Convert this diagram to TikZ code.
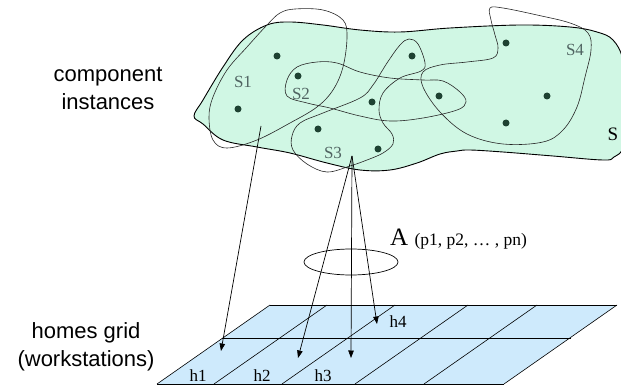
\documentclass[tikz,border=0pt]{standalone}
\usepackage{fontspec}
\setmainfont{Liberation Serif}
\setsansfont{Liberation Sans}
\usetikzlibrary{arrows.meta, positioning, shapes.geometric}

\definecolor{mint}{RGB}{208,247,228}
\definecolor{setgray}{RGB}{80,100,98}
\definecolor{dotgreen}{RGB}{30,66,50}
\definecolor{homeblue}{RGB}{206,234,252}

\begin{document}
\begin{tikzpicture}[
  x=1pt, y=-1pt,
  every node/.style={inner sep=0pt},
  sidelabel/.style={font=\sffamily\fontsize{22}{28}\selectfont, align=center},
  setname/.style={font=\fontsize{17}{19}\selectfont, text=setgray},
  setline/.style={draw=black!85, line width=0.6pt},
  blobline/.style={draw=black, line width=0.9pt},
  dot/.style={circle, fill=dotgreen, minimum size=7pt},
  homename/.style={font=\fontsize{17}{19}\selectfont},
  gridline/.style={draw=black, line width=0.6pt},
  arr/.style={-{Triangle[length=7.5pt, width=5.5pt]}, line width=0.7pt},
]
\useasboundingbox (0,0) rectangle (621,385);
\clip (0,0) rectangle (621,385);

%% Set S of component instances
\filldraw[blobline, fill=mint] plot[smooth cycle, tension=0.6] coordinates {
  (194,116) (203,100) (223,67) (243,40) (267,25) (290,22) (323,25) (360,30)
  (400,32) (450,28) (520,25) (570,27) (597,32) (613,40) (623,60) (627,100)
  (624,145) (614,157) (603,160) (553,156) (503,152) (470,150) (457,151)
  (440,154) (417,163) (390,170) (360,170) (327,163) (290,153) (257,147)
  (223,140) (203,124)};

%% Subsets S1 - S4
\draw[setline] plot[smooth cycle, tension=0.6] coordinates {
  (267,25) (280,13) (295,9) (323,10) (343,20) (347,37) (343,67) (333,90)
  (317,107) (290,123) (257,140) (227,148) (213,140) (209,117) (213,97)
  (227,70) (247,47)};
\draw[setline] plot[smooth cycle, tension=0.6] coordinates {
  (287,80) (297,67) (317,62) (337,63) (360,72) (390,78) (423,80) (443,81)
  (460,92) (466,102) (457,110) (423,118) (390,121) (360,116) (330,108)
  (307,103) (287,96)};
\draw[setline] plot[smooth cycle, tension=0.6] coordinates {
  (300,123) (323,113) (360,98) (373,85) (387,63) (400,45) (409,39) (418,44)
  (425,63) (421,71) (400,78) (383,93) (379,110) (383,123) (392,134)
  (393,144) (383,153) (367,160) (350,166) (327,172) (307,164) (293,150)
  (292,136)};
\draw[setline] plot[smooth cycle, tension=0.6] coordinates {
  (490,8) (503,8) (537,15) (570,23) (588,33) (591,50) (585,77) (577,107)
  (563,130) (543,142) (503,144) (467,134) (440,112) (423,87) (423,72)
  (440,65) (467,62) (493,58) (498,48) (495,35) (491,20)};

%% Component instances
\foreach \p [count=\i] in {(277,56), (298,76), (238,109), (318,129),
  (412,56), (372,102), (439,96), (378,149), (506,43), (547,96), (506,123)}
  \node[dot] (inst\i) at \p {};

%% Set names
\node[setname] (nameS1) at (243,82) {S1};
\node[setname] (nameS2) at (301,94) {S2};
\node[setname] (nameS3) at (333,153) {S3};
\node[setname] (nameS4) at (575,50) {S4};
\node[setname, text=black, font=\fontsize{19}{21}\selectfont] (nameS) at (613,134) {S};

%% Side labels
\node[sidelabel] (instlabel) at (108,88) {component\\instances};
\node[sidelabel] (gridlabel) at (86,347) {homes grid\\(workstations)};

%% Homes grid
\fill[homeblue] (157,384) -- (270,305) -- (617,305) -- (504,384) -- cycle;
\draw[gridline] (270,305) -- (617,305);
\draw[gridline] (222,338) -- (571,338);
\draw[gridline] (157,384) -- (504,384);
\foreach \b in {157,214,282,355,424,504}
  \draw[gridline] (\b,384) -- ++(113,-79);

\node[homename] (h1) at (198,376) {h1};
\node[homename] (h2) at (262,376) {h2};
\node[homename] (h3) at (323,376) {h3};
\node[homename] (h4) at (398,322) {h4};

%% Mapping A
\node[draw, ellipse, minimum width=94pt, minimum height=26pt, line width=0.7pt] (bundle) at (351,262) {};
\node[font=\fontsize{25}{27}\selectfont, anchor=base west] (alloc) at (390,245) {A};
\node[font=\fontsize{17.5}{19}\selectfont, base right=6pt of alloc] (params) {(p1, p2, \dots\ , pn)};

%% Arrows
\coordinate (fromS1) at (261,126);
\coordinate (fromS3) at (352,156);
\coordinate (cell1) at (221,351);
\coordinate (cell2) at (298,358);
\coordinate (cell3) at (351,358);
\coordinate (cell4) at (377,324);
\draw[arr] (fromS1) -- (cell1);
\draw[arr] (fromS3) -- (cell2);
\draw[arr] (fromS3) -- (cell3);
\draw[arr] (fromS3) -- (cell4);

\end{tikzpicture}
\end{document}
